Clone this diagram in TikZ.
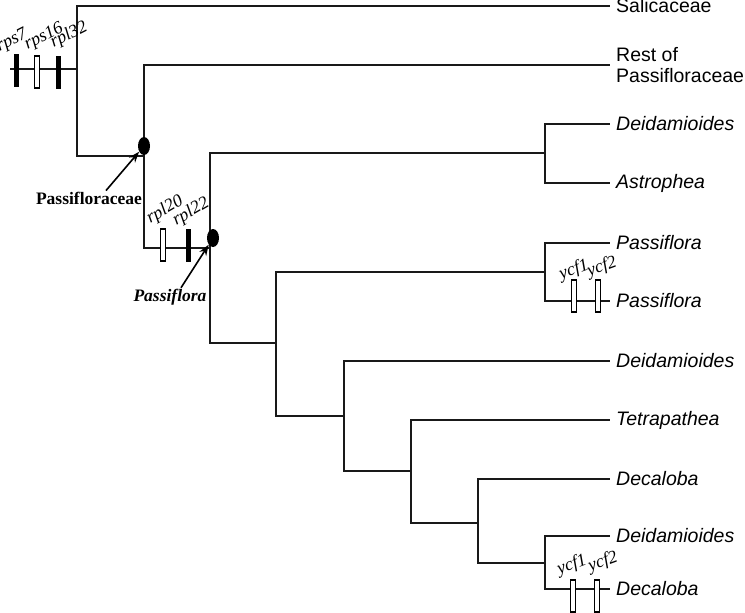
\documentclass[tikz,border=0pt]{standalone}
\usepackage{fontspec}
\setmainfont{Liberation Serif}
\newfontfamily\taxfont{Liberation Sans}
\usetikzlibrary{shapes.geometric,arrows.meta}
\tikzset{
  br/.style={line width=1.5pt, draw=black!90},
  taxon/.style={anchor=west, inner xsep=6pt, inner ysep=0pt, font=\taxfont\fontsize{19.5}{21}\selectfont},
  itaxon/.style={taxon, font=\taxfont\itshape\fontsize{19.5}{21}\selectfont},
  gain/.style={draw=black, line width=1.1pt, fill=white, rectangle, minimum width=5pt, minimum height=32pt, inner sep=0pt},
  loss/.style={draw=black, fill=black, rectangle, minimum width=3.5pt, minimum height=32pt, inner sep=0pt},
  gene/.style={font=\itshape\fontsize{18}{18}\selectfont, inner sep=0pt},
  dot/.style={ellipse, fill=black, minimum width=12pt, minimum height=18pt, inner sep=0pt},
  callout/.style={font=\bfseries\fontsize{17.5}{17.5}\selectfont, inner sep=0pt},
  arr/.style={line width=1.6pt, -{Stealth[length=11pt,width=8pt]}}
}
\begin{document}
\begin{tikzpicture}[x=1pt,y=-1pt]
\useasboundingbox (0,0) rectangle (745,613);
% internal coordinates
\coordinate (root) at (10,69);
\coordinate (n1) at (77,69);
\coordinate (n2) at (144,156);
\coordinate (n3) at (210,248);
\coordinate (n4) at (545,153);
\coordinate (n5) at (276,343);
\coordinate (n6) at (545,272);
\coordinate (n7) at (344,416);
\coordinate (n8) at (411,471);
\coordinate (n9) at (478,523);
\coordinate (n10) at (545,563);
% taxa
\node[taxon] (sal) at (610,6) {Salicaceae};
\node[taxon, align=left] (rest) at (610,65) {Rest of\\Passifloraceae};
\node[itaxon] (t1) at (610,124) {Deidamioides};
\node[itaxon] (t2) at (610,183) {Astrophea};
\node[itaxon] (t3) at (610,243) {Passiflora};
\node[itaxon] (t4) at (610,301) {Passiflora};
\node[itaxon] (t5) at (610,361) {Deidamioides};
\node[itaxon] (t6) at (610,420) {Tetrapathea};
\node[itaxon] (t7) at (610,479) {Decaloba};
\node[itaxon] (t8) at (610,536) {Deidamioides};
\node[itaxon] (t9) at (610,589) {Decaloba};
% branches
\draw[br] (root) -- (n1);
\draw[br] (n1) |- (sal.west);
\draw[br] (n1) |- (n2);
\draw[br] (n2) |- (rest.west);
\draw[br] (n2) |- (n3);
\draw[br] (n3) |- (n4);
\draw[br] (n3) |- (n5);
\draw[br] (n4) |- (t1.west);
\draw[br] (n4) |- (t2.west);
\draw[br] (n5) |- (n6);
\draw[br] (n5) |- (n7);
\draw[br] (n6) |- (t3.west);
\draw[br] (n6) |- (t4.west);
\draw[br] (n7) |- (t5.west);
\draw[br] (n7) |- (n8);
\draw[br] (n8) |- (t6.west);
\draw[br] (n8) |- (n9);
\draw[br] (n9) |- (t7.west);
\draw[br] (n9) |- (n10);
\draw[br] (n10) |- (t8.west);
\draw[br] (n10) |- (t9.west);
% gene markers
\node[loss] (m1) at (16,70) {};
\node[gain] (m2) at (37,72) {};
\node[loss] (m3) at (58,72) {};
\node[gain] (m4) at (163,245) {};
\node[loss] (m5) at (188,245) {};
\node[gain] (m6) at (574,296) {};
\node[gain] (m7) at (598,296) {};
\node[gain] (m8) at (573,596) {};
\node[gain] (m9) at (597,596) {};
% gene labels
\node[gene, rotate=27] (g1) at (12,41) {rps7};
\node[gene, rotate=27] (g2) at (44,37) {rps16};
\node[gene, rotate=27] (g3) at (69,35) {rpl32};
\node[gene, rotate=30] (g4) at (165,210) {rpl20};
\node[gene, rotate=30] (g5) at (191,212) {rpl22};
\node[gene, rotate=20] (g6) at (574,270) {ycf1};
\node[gene, rotate=20] (g7) at (602,267) {ycf2};
\node[gene, rotate=20] (g8) at (572,565) {ycf1};
\node[gene, rotate=20] (g9) at (603,562) {ycf2};
% clade dots and callouts
\node[dot] (d1) at (144,146) {};
\node[dot] (d2) at (213,238) {};
\node[callout] (c1) at (89,198) {Passifloraceae};
\node[callout, font=\bfseries\itshape\fontsize{17.5}{17.5}\selectfont] (c2) at (170,297) {Passiflora};
\draw[arr] ([xshift=17pt,yshift=1pt]c1.north) -- (d1);
\draw[arr] ([xshift=11pt,yshift=1pt]c2.north) -- (d2);
\end{tikzpicture}
\end{document}
